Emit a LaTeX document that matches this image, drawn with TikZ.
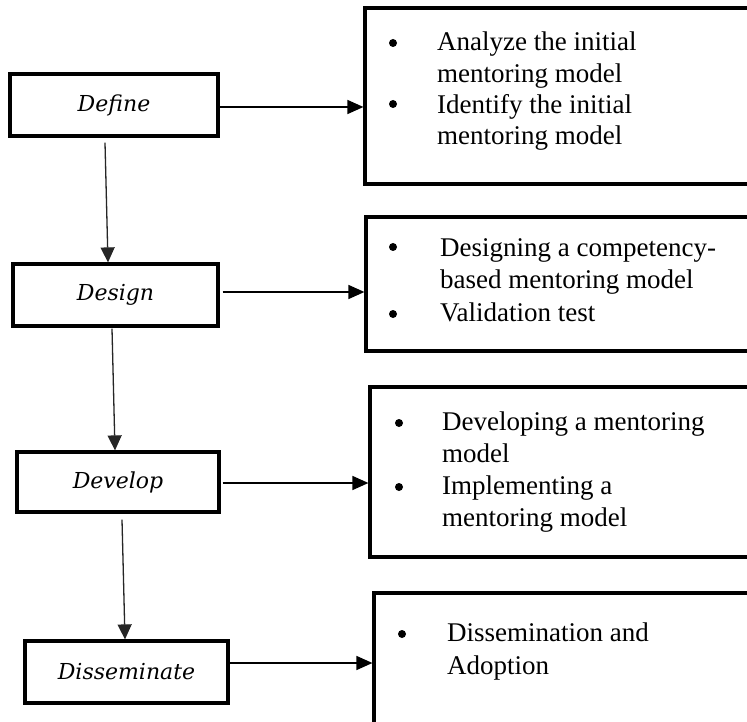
\documentclass[tikz,border=0pt]{standalone}
\usepackage{fontspec}
\setmainfont{Liberation Serif}
\newfontfamily\labfont{DejaVu Serif}
\usetikzlibrary{arrows.meta,calc}
\tikzset{
  stage/.style={draw=black, line width=3.2pt, rectangle, inner sep=0pt,
    font=\labfont\itshape\fontsize{22}{26}\selectfont},
  panel/.style={draw=black, line width=3.2pt, rectangle, inner sep=0pt},
  flow/.style={line width=1.5pt, -{Triangle[length=16pt,width=14pt]}},
  down/.style={line width=1.3pt, draw=black!85, -{Triangle[length=15pt,width=14pt]}},
  bul/.style={circle, fill=black, inner sep=0pt, minimum size=8pt},
  itemtext/.style={anchor=base west, inner sep=0pt, font=\fontsize{27}{32}\selectfont}
}
\begin{document}
\begin{tikzpicture}[x=1pt,y=-1pt]
\useasboundingbox (0,0) rectangle (747,722);
\clip (0,0) rectangle (747,722);
\fill[white] (0,0) rectangle (747,722);

% left stages
\node[stage, minimum width=208pt, minimum height=62pt] (define) at (114,105) {Define};
\node[stage, minimum width=205pt, minimum height=62pt] (design) at (115.5,295) {Design};
\node[stage, minimum width=202pt, minimum height=60pt] (develop) at (118,482) {Develop};
\node[stage, minimum width=203pt, minimum height=62pt] (dissem) at (126.5,672) {Disseminate};

% right panels (cut off at the picture's right and bottom edges)
\node[panel, minimum width=405pt, minimum height=176pt] (p1) at (567.5,96) {};
\node[panel, minimum width=404pt, minimum height=134pt] (p2) at (568,284) {};
\node[panel, minimum width=400pt, minimum height=170pt] (p3) at (570,472) {};
\node[panel, minimum width=396pt, minimum height=147pt] (p4) at (572,666.5) {};

% panel 1 text
\node[bul] (b1a) at (393,43) {};
\node[itemtext] (t1a) at (437,51) {Analyze the initial};
\node[itemtext] (t1b) at (437,83) {mentoring model};
\node[bul] (b1b) at (393,104) {};
\node[itemtext] (t1c) at (437,114) {Identify the initial};
\node[itemtext] (t1d) at (437,145) {mentoring model};

% panel 2 text
\node[bul] (b2a) at (393,247) {};
\node[itemtext] (t2a) at (440,256) {Designing a competency-};
\node[itemtext] (t2b) at (440,288) {based mentoring model};
\node[bul] (b2b) at (393,314) {};
\node[itemtext] (t2c) at (440,321) {Validation test};

% panel 3 text
\node[bul] (b3a) at (399,423) {};
\node[itemtext] (t3a) at (442,430) {Developing a mentoring};
\node[itemtext] (t3b) at (442,462) {model};
\node[bul] (b3b) at (399,487) {};
\node[itemtext] (t3c) at (442,494) {Implementing a};
\node[itemtext] (t3d) at (442,526) {mentoring model};

% panel 4 text
\node[bul] (b4a) at (402,634) {};
\node[itemtext] (t4a) at (447,641) {Dissemination and};
\node[itemtext] (t4b) at (447,674) {Adoption};

% horizontal connectors
\draw[flow] ([yshift=-2pt]define.east) -- ([yshift=-2pt]define.east -| p1.west);
\draw[flow] ([xshift=3pt,yshift=3pt]design.east) -- ([yshift=3pt]design.east -| p2.west);
\draw[flow] ([xshift=2pt,yshift=-1pt]develop.east) -- ([yshift=-1pt]develop.east -| p3.west);
\draw[flow] ([xshift=-3pt,yshift=9pt]dissem.east) -- ([yshift=9pt]dissem.east -| p4.west);

% vertical connectors
\draw[down] ([xshift=-9pt,yshift=-5pt]define.south) -- ([xshift=-7.5pt]design.north);
\draw[down] ([xshift=-3.5pt,yshift=-1pt]design.south) -- ([xshift=-3pt]develop.north);
\draw[down] ([xshift=4pt,yshift=-6pt]develop.south) -- ([xshift=-1.5pt]dissem.north);
\end{tikzpicture}
\end{document}
